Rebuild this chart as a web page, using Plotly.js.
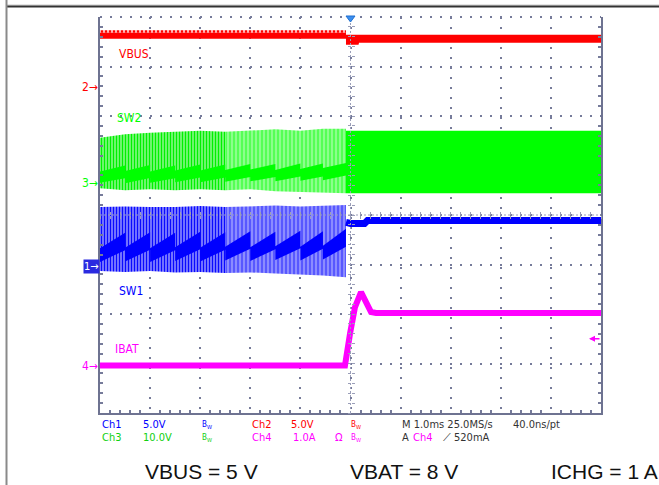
<!DOCTYPE html>
<html><head><meta charset="utf-8">
<script src="https://cdn.plot.ly/plotly-3.0.1.min.js"></script>
<style>html,body{margin:0;padding:0;background:#fff;} #chart{width:659px;height:485px;}</style>
</head><body><div id="chart"></div>
<script>
// ---------- DATA (time in ms, 1.0 ms/div, trigger at 0; vertical in screen divisions, centre = 0) ----------
const toothT      = [-5.0, -4.5, -4.0, -3.5, -3.0, -2.5, -2.0, -1.5, -1.0, -0.55, -0.09];
// SW1 (Ch1) saturated sawtooth band, per switching burst
const sw1StartTop = [-0.67, -0.66, -0.67, -0.65, -0.66, -0.64, -0.65, -0.63, -0.64, -0.62];
const sw1EndTop   = [-0.36, -0.35, -0.36, -0.34, -0.35, -0.33, -0.34, -0.32, -0.33, -0.28];
const sw1StartBot = [-0.95, -0.94, -0.95, -0.93, -0.94, -0.92, -0.93, -0.91, -0.92, -0.90];
const sw1EndBot   = [-0.71, -0.70, -0.71, -0.69, -0.70, -0.68, -0.69, -0.67, -0.68, -0.64];
// SW2 (Ch3) saturated centre band
const sw2StartTop = [0.88, 0.89, 0.88, 0.90, 0.90, 0.91, 0.92, 0.91, 0.93, 0.95];
const sw2EndTop   = [1.00, 1.01, 1.00, 1.02, 1.02, 1.03, 1.03, 1.04, 1.04, 1.05];
const sw2StartBot = [0.65, 0.64, 0.65, 0.66, 0.66, 0.67, 0.68, 0.68, 0.69, 0.70];
const sw2EndBot   = [0.74, 0.75, 0.74, 0.76, 0.76, 0.77, 0.77, 0.78, 0.78, 0.80];
// switching envelopes before the transition
const envT      = [-5.0, -4.5, -4.0, -3.5, -3.0, -2.5, -2.0, -1.5, -1.0, -0.55, -0.09];
const sw2EnvTop = [1.56, 1.63, 1.66, 1.68, 1.70, 1.68, 1.70, 1.73, 1.70, 1.74, 1.74];
const sw2EnvBot = [0.54, 0.50, 0.52, 0.50, 0.52, 0.50, 0.52, 0.48, 0.47, 0.46, 0.44];
const sw1EnvTop = [0.16, 0.17, 0.16, 0.16, 0.18, 0.16, 0.18, 0.19, 0.17, 0.18, 0.20];
const sw1EnvBot = [-1.13, -1.15, -1.13, -1.16, -1.15, -1.17, -1.16, -1.18, -1.20, -1.22, -1.26];
// after the transition
const sw2PostT = [-0.09, 5.0];
const sw2PostTop = [1.70, 1.70];
const sw2PostBot = [0.44, 0.44];
const sw1PostT = [-0.09, 0.0, 0.28, 0.34, 5.0];
const sw1PostY = [-0.15, -0.17, -0.17, -0.11, -0.11];
// VBUS (Ch2)
const vbusPreT = [-5.0, -0.09];
const vbusPreSpike = [3.73, 3.73];
const vbusPreTop = [3.68, 3.68];
const vbusPreBot = [3.56, 3.56];
const vbusPostT = [-0.09, 0.16, 0.17, 5.0];
const vbusPostTop = [3.64, 3.64, 3.64, 3.64];
const vbusPostBot = [3.44, 3.44, 3.48, 3.48];
// IBAT (Ch4)
const ibatT = [-5.0, -0.11, -0.01, 0.09, 0.21, 0.31, 0.41, 0.51, 5.0];
const ibatY = [-3.04, -3.04, -2.40, -1.86, -1.56, -1.76, -1.96, -1.98, -1.98];
// channel labels and markers
const chanLabels = ['VBUS', 'SW2', 'SW1', 'IBAT'];
const chanLevels = [2.59, 0.65, -1.05, -3.05];
const trigLevel = -2.5;
const statusRow1 = ['Ch1', '5.0V', 'Ch2', '5.0V', 'M 1.0ms 25.0MS/s', '40.0ns/pt'];
const statusRow2 = ['Ch3', '10.0V', 'Ch4', '1.0A', 'A', 'Ch4', '520mA'];
const captions = ['VBUS = 5 V', 'VBAT = 8 V', 'ICHG = 1 A'];

// ---------- helpers ----------
const BLUE = '#0000ff', PBLUE = '#8c8cff', GREEN = '#00ff00', PGREEN = '#8cff8c', RED = '#ff0000', MAG = '#ff00ff';
const GRID = '#767b9a';
const NARROW = "'Liberation Sans Narrow', 'DejaVu Sans Condensed', 'Liberation Sans', sans-serif";
function band(x, lo, hi, fill) {
  const lower = {x: x, y: lo, mode: 'lines', line: {width: 0, color: 'rgba(0,0,0,0)'}, hoverinfo: 'skip', type: 'scatter'};
  const upper = Object.assign({x: x, y: hi, mode: 'lines', line: {width: 0, color: 'rgba(0,0,0,0)'}, hoverinfo: 'skip', type: 'scatter', fill: 'tonexty'}, fill);
  return [lower, upper];
}
function saw(t, a, b) {
  const xs = [], ys = [];
  for (let i = 0; i < a.length; i++) { xs.push(t[i], t[i + 1]); ys.push(a[i], b[i]); }
  return [xs, ys];
}
function sub(arr, i0, i1) { return arr.slice(i0, i1 + 1); }

const traces = [];
// SW2 envelope (left striped, right pale)
traces.push(...band(sub(envT, 0, 5), sub(sw2EnvBot, 0, 5), sub(sw2EnvTop, 0, 5),
  {fillpattern: {shape: '|', fgcolor: '#00f000', bgcolor: '#ffffff', size: 3, solidity: 0.72}}));
traces.push(...band(sub(envT, 5, 10), sub(sw2EnvBot, 5, 10), sub(sw2EnvTop, 5, 10),
  {fillpattern: {shape: '|', fgcolor: '#30ff30', bgcolor: PGREEN, size: 4, solidity: 0.3}}));
// SW1 envelope
traces.push(...band(sub(envT, 0, 5), sub(sw1EnvBot, 0, 5), sub(sw1EnvTop, 0, 5),
  {fillpattern: {shape: '|', fgcolor: '#0a0aff', bgcolor: '#ffffff', size: 3, solidity: 0.72}}));
traces.push(...band(sub(envT, 5, 10), sub(sw1EnvBot, 5, 10), sub(sw1EnvTop, 5, 10),
  {fillpattern: {shape: '|', fgcolor: '#3535ff', bgcolor: PBLUE, size: 4, solidity: 0.3}}));
// saturated sawtooth bands
let s1 = saw(toothT, sw1StartBot, sw1EndBot), s2 = saw(toothT, sw1StartTop, sw1EndTop);
traces.push(...band(s1[0], s1[1], s2[1], {fillcolor: BLUE}));
let g1 = saw(toothT, sw2StartBot, sw2EndBot), g2 = saw(toothT, sw2StartTop, sw2EndTop);
traces.push(...band(g1[0], g1[1], g2[1], {fillcolor: GREEN}));
// after transition
traces.push(...band(sw2PostT, sw2PostBot, sw2PostTop, {fillcolor: GREEN}));
traces.push({x: sw1PostT, y: sw1PostY, mode: 'lines', line: {color: BLUE, width: 7}, hoverinfo: 'skip', type: 'scatter'});
// VBUS
traces.push(...band(vbusPreT, vbusPreTop, vbusPreSpike,
  {fillpattern: {shape: '|', fgcolor: RED, bgcolor: '#ffb0b0', size: 4, solidity: 0.5}}));
traces.push(...band(vbusPreT, vbusPreBot, vbusPreTop, {fillcolor: RED}));
traces.push(...band(vbusPostT, vbusPostBot, vbusPostTop, {fillcolor: RED}));
// IBAT
traces.push({x: ibatT, y: ibatY, mode: 'lines', line: {color: MAG, width: 6}, hoverinfo: 'skip', type: 'scatter'});
// dummy traces to anchor crosshair tick axes
traces.push({x: [null], y: [null], xaxis: 'x2', yaxis: 'y', type: 'scatter', hoverinfo: 'skip'});
traces.push({x: [null], y: [null], xaxis: 'x3', yaxis: 'y', type: 'scatter', hoverinfo: 'skip'});
traces.push({x: [null], y: [null], xaxis: 'x', yaxis: 'y2', type: 'scatter', hoverinfo: 'skip'});
traces.push({x: [null], y: [null], xaxis: 'x', yaxis: 'y3', type: 'scatter', hoverinfo: 'skip'});

// ---------- layout ----------
const L = 100, R = 601, T = 17, B = 413;
const px = v => (v - L) / (R - L);
const py = v => (B - v) / (B - T);

const annotations = [];
const labelColors = [RED, GREEN, BLUE, MAG];
const labelPos = [[117, 54], [115, 118], [117, 291], [113, 349]];
chanLabels.forEach((s, i) => annotations.push({xref: 'paper', yref: 'paper', x: px(labelPos[i][0]), y: py(labelPos[i][1]),
  xanchor: 'left', yanchor: 'middle', showarrow: false, text: s, font: {family: NARROW, size: 12, color: labelColors[i]}}));
// ground markers
const markerTxt = ['2', '3', '1', '4'];
const markerCol = [RED, GREEN, BLUE, MAG];
chanLevels.forEach((lv, i) => {
  if (markerTxt[i] === '1') {
    annotations.push({xref: 'paper', yref: 'y', x: px(100), y: lv, xanchor: 'right', yanchor: 'middle', showarrow: false,
      text: '1→', bgcolor: '#2a2ae0', borderpad: 0, font: {family: NARROW, size: 11, color: '#ffffff'}});
  } else {
    annotations.push({xref: 'paper', yref: 'y', x: px(100), y: lv, xanchor: 'right', yanchor: 'middle', showarrow: false,
      text: markerTxt[i] + '→', font: {family: NARROW, size: 12, color: markerCol[i]}});
  }
});
// trigger level arrow (right edge)
annotations.push({xref: 'x', yref: 'y', x: 4.76, y: trigLevel, axref: 'x', ayref: 'y', ax: 5.0, ay: trigLevel, text: '',
  showarrow: true, arrowhead: 2, arrowsize: 0.8, arrowwidth: 1.5, arrowcolor: MAG});
// status bar
const r1y = py(424.5), r2y = py(437.5);
const DARK = '#333333';
const st = (t, x, y, c, sz) => annotations.push({xref: 'paper', yref: 'paper', x: px(x), y: y, xanchor: 'left', yanchor: 'middle',
  showarrow: false, text: t, font: {family: NARROW, size: sz || 11, color: c}});
st(statusRow1[0], 100, r1y, BLUE); st(statusRow1[1], 141, r1y, BLUE); st('B<sub>W</sub>', 200, r1y, BLUE, 8);
st(statusRow1[2], 250, r1y, RED); st(statusRow1[3], 289, r1y, RED); st('B<sub>W</sub>', 349, r1y, RED, 8);
st(statusRow1[4], 400, r1y, DARK); st(statusRow1[5], 511, r1y, DARK);
st(statusRow2[0], 100, r2y, '#10d010'); st(statusRow2[1], 141, r2y, '#10d010'); st('B<sub>W</sub>', 200, r2y, '#10d010', 8);
st(statusRow2[2], 250, r2y, MAG); st(statusRow2[3], 291, r2y, MAG); st('Ω', 333, r2y, MAG); st('B<sub>W</sub>', 349, r2y, MAG, 8);
st(statusRow2[4], 400, r2y, DARK); st(statusRow2[5], 411, r2y, MAG); st('⟋', 441, r2y, DARK); st(statusRow2[6], 452, r2y, DARK);
// captions
[[143], [348], [549]].forEach((p, i) => annotations.push({xref: 'paper', yref: 'paper', x: px(p[0]), y: py(471), xanchor: 'left', yanchor: 'middle',
  showarrow: false, text: captions[i], font: {family: "'Liberation Sans', Arial, sans-serif", size: 21, color: '#111111'}}));

const shapes = [
  // outer frame
  {type: 'line', xref: 'paper', yref: 'paper', x0: px(6), x1: px(659), y0: py(5), y1: py(5), line: {color: '#c8c8c8', width: 1}},
  {type: 'line', xref: 'paper', yref: 'paper', x0: px(6), x1: px(659), y0: py(6.5), y1: py(6.5), line: {color: '#333333', width: 2}},
  {type: 'line', xref: 'paper', yref: 'paper', x0: px(6.5), x1: px(6.5), y0: py(0), y1: py(485), line: {color: '#8a8a8a', width: 2}},
  // top dotted edge
  {type: 'line', xref: 'paper', yref: 'paper', x0: 0, x1: 1, y0: 1, y1: 1, line: {color: GRID, width: 2, dash: '2px,8px'}},
  // crosshair dotted lines
  {type: 'line', xref: 'x', yref: 'paper', x0: 0, x1: 0, y0: 0, y1: 1, line: {color: '#9a9eb8', width: 1, dash: '2px,2px'}},
  {type: 'line', xref: 'paper', yref: 'y', x0: 0, x1: 1, y0: 0, y1: 0, line: {color: '#9a9eb8', width: 1, dash: '2px,2px'}},
  // trigger position marker
  {type: 'path', xref: 'x', yref: 'paper', path: 'M -0.09 ' + py(16) + ' L 0.09 ' + py(16) + ' L 0 ' + py(22) + ' Z',
    fillcolor: '#3b8fef', line: {color: '#1f6fd0', width: 1}},
];

const tickAx = (extra) => Object.assign({range: [-5, 5], showgrid: false, zeroline: false, showline: false, showticklabels: false,
  fixedrange: true}, extra);
const layout = {
  width: 659, height: 485, margin: {l: L, r: 659 - R, t: T, b: 485 - B, pad: 0},
  paper_bgcolor: '#ffffff', plot_bgcolor: '#ffffff', showlegend: false,
  xaxis: {range: [-5, 5], dtick: 1, tick0: 0, showgrid: true, gridcolor: GRID, gridwidth: 2, griddash: '2px,8px',
    zeroline: false, showline: true, linecolor: '#6e7391', linewidth: 2, ticks: '', showticklabels: false, fixedrange: true,
    minor: {dtick: 0.2, tick0: 0, ticks: 'inside', ticklen: 3, tickwidth: 2, tickcolor: GRID, showgrid: false}},
  yaxis: {range: [-4, 4], dtick: 1, tick0: 0, showgrid: true, gridcolor: GRID, gridwidth: 2, griddash: '2px,8px',
    zeroline: false, showline: true, mirror: 'ticks', linecolor: '#6e7391', linewidth: 2, ticks: '', showticklabels: false, fixedrange: true,
    minor: {dtick: 0.2, tick0: 0, ticks: 'inside', ticklen: 3, tickwidth: 2, tickcolor: GRID, showgrid: false}},
  xaxis2: tickAx({overlaying: 'x', anchor: 'free', position: 0.5, ticks: 'outside', ticklen: 3, tickcolor: '#9a9eb8', dtick: 0.2, tick0: 0}),
  xaxis3: tickAx({overlaying: 'x', anchor: 'free', position: 0.5, ticks: 'inside', ticklen: 3, tickcolor: '#9a9eb8', dtick: 0.2, tick0: 0}),
  yaxis2: Object.assign(tickAx({overlaying: 'y', anchor: 'free', position: 0.5, ticks: 'outside', ticklen: 3, tickcolor: '#9a9eb8', dtick: 0.2, tick0: 0}), {range: [-4, 4]}),
  yaxis3: Object.assign(tickAx({overlaying: 'y', anchor: 'free', position: 0.5, ticks: 'inside', ticklen: 3, tickcolor: '#9a9eb8', dtick: 0.2, tick0: 0}), {range: [-4, 4]}),
  annotations: annotations, shapes: shapes
};
Plotly.newPlot('chart', traces, layout, {staticPlot: true, displayModeBar: false});
</script></body></html>
